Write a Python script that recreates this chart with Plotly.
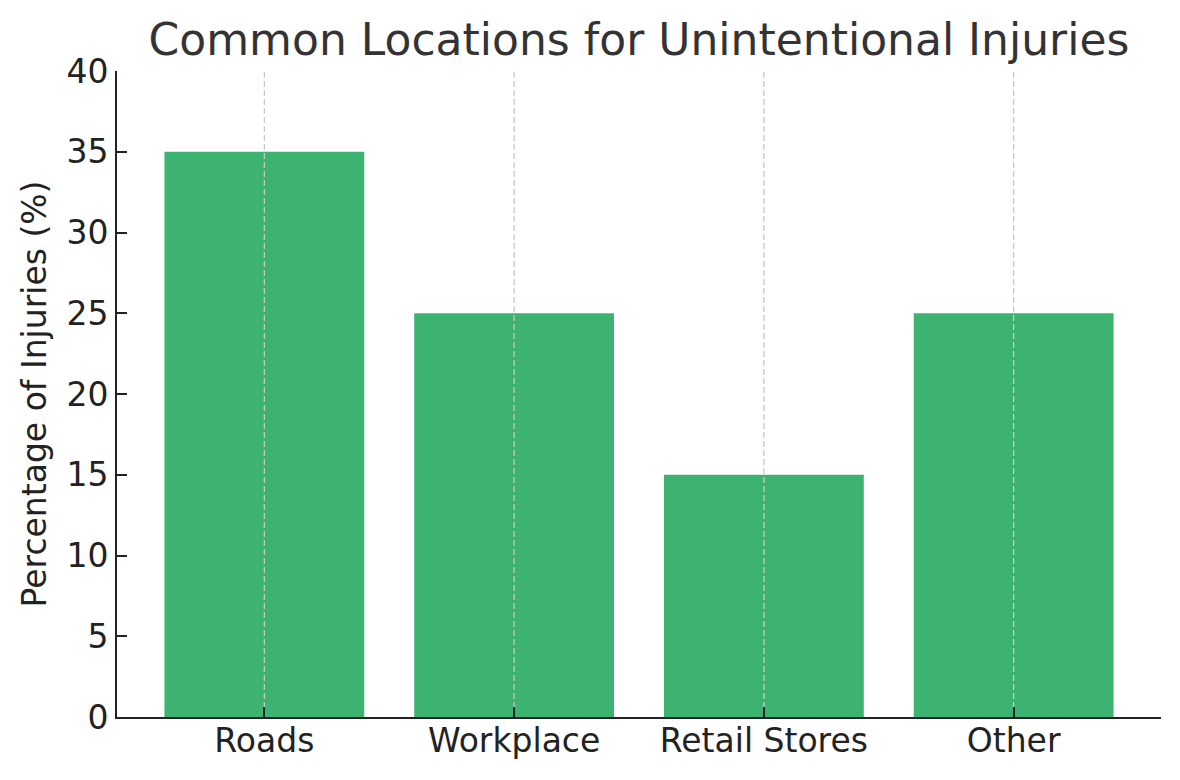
import plotly.graph_objects as go

categories = ["Roads", "Workplace", "Retail Stores", "Other"]
values = [35, 25, 15, 25]
y_ticks = [0, 5, 10, 15, 20, 25, 30, 35, 40]
y_max = 40

fig = go.Figure()
fig.add_trace(go.Bar(
    x=categories, y=values, width=0.8,
    marker=dict(color="#3cb371", line=dict(width=0)),
    hoverinfo="x+y",
))

# vertical dashed grid lines drawn above bars (as in the reference)
for c in categories:
    fig.add_trace(go.Scatter(
        x=[c, c], y=[0, y_max], mode="lines",
        line=dict(color="#c8c8c8", width=1.3, dash="6px,3px"),
        hoverinfo="skip",
    ))

L, R, T, B = 109, 27, 63, 71
fig.update_layout(
    width=1180, height=780,
    margin=dict(l=L, r=R, t=T, b=B),
    plot_bgcolor="white", paper_bgcolor="white",
    font=dict(family="DejaVu Sans", color="#222222"),
    title=dict(text="Common Locations for Unintentional Injuries",
               x=(L + (1180 - R)) / 2 / 1180, xanchor="center",
               y=1 - 32 / 780, yanchor="middle",
               font=dict(size=44, color="#333333")),
    showlegend=False,
    bargap=0.2,
)
fig.update_xaxes(
    range=[-0.59, 3.59],
    showline=True, linecolor="#222222", linewidth=2,
    ticks="inside", ticklen=10, tickwidth=2, tickcolor="#222222",
    tickfont=dict(size=33, color="#222222"),
    ticklabelstandoff=-7,
    showgrid=False,
    layer="above traces",
)
fig.update_yaxes(
    range=[0, y_max], tickvals=y_ticks,
    showline=True, linecolor="#222222", linewidth=2,
    ticks="inside", ticklen=10, tickwidth=2, tickcolor="#222222",
    tickfont=dict(size=33, color="#222222"),
    showgrid=False, zeroline=False,
    layer="above traces",
    title=dict(text="Percentage of Injuries (%)", font=dict(size=33, color="#222222"), standoff=10),
)

fig.write_html("out.html")
